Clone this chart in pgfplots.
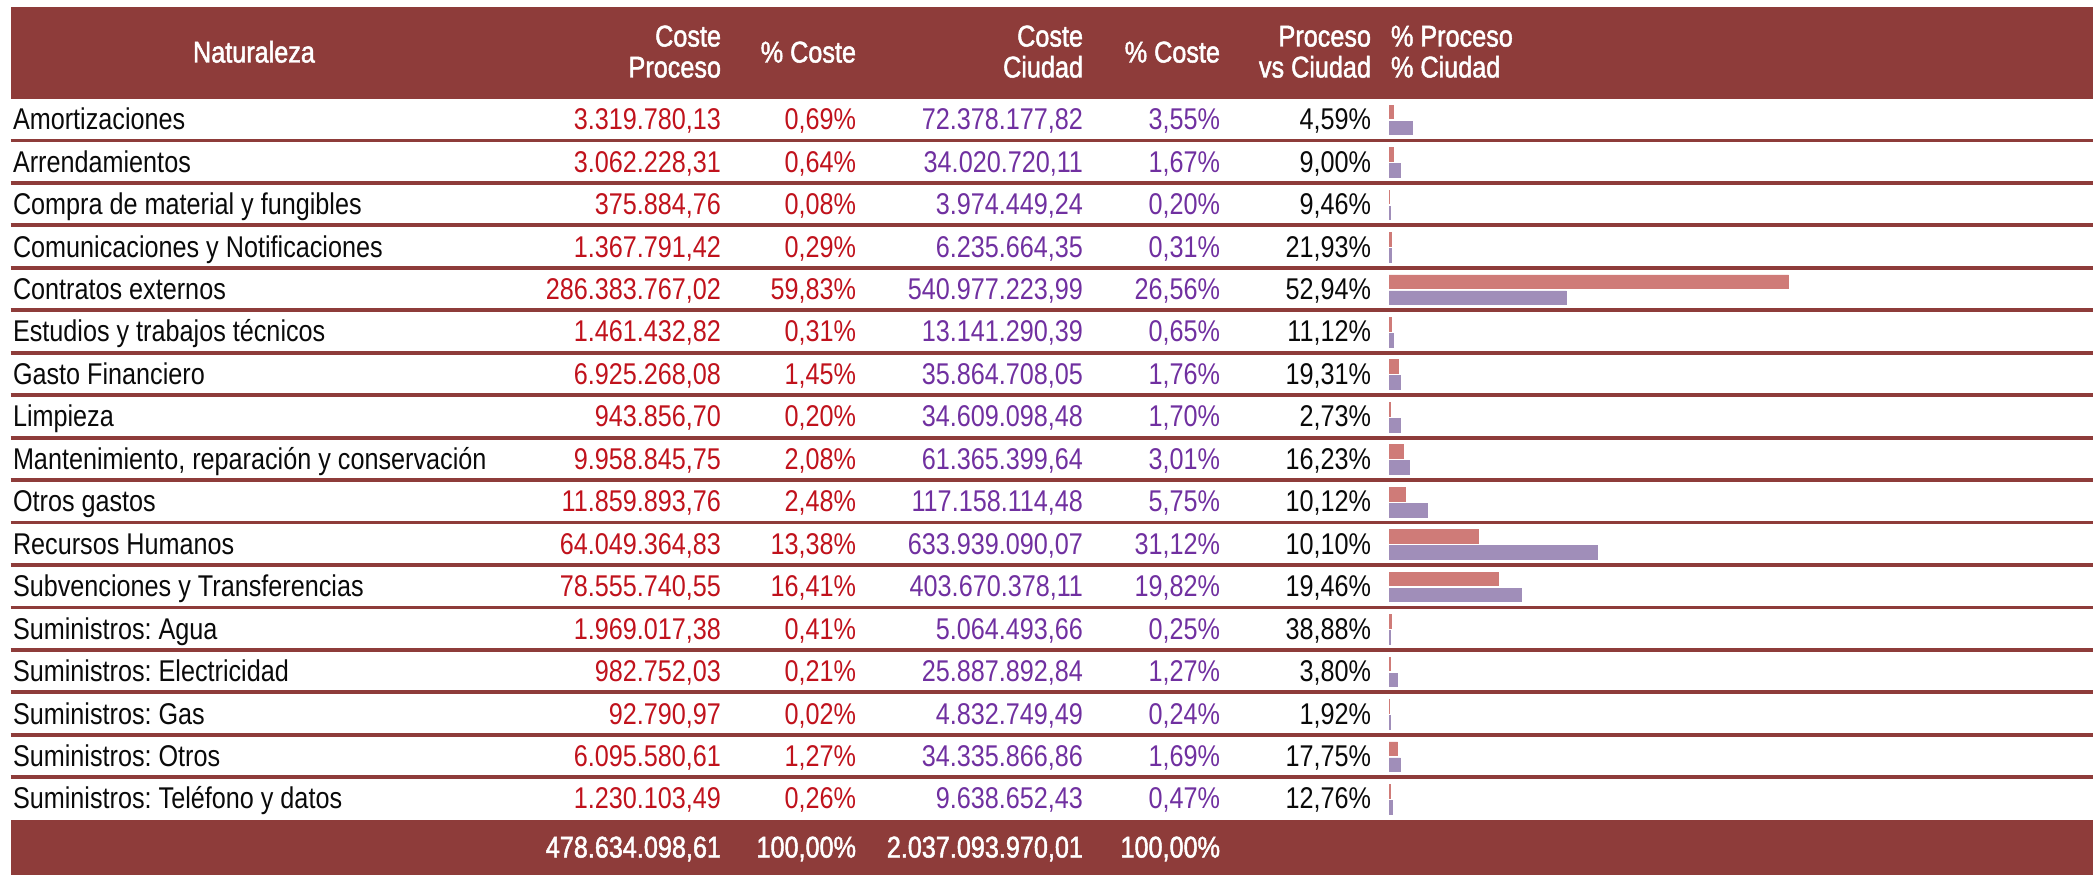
\documentclass[border=0pt]{standalone}
\usepackage{pgfplots}
\pgfplotsset{compat=1.18}
\usepackage{pgfplotstable}
\usepackage{fontspec}
\setmainfont{Liberation Sans}[FakeStretch=0.84]
\newfontfamily\hfont{Liberation Sans}[FakeStretch=0.84,FakeBold=1.6]
\frenchspacing
\definecolor{hdr}{RGB}{142,60,58}
\definecolor{tred}{RGB}{192,18,28}
\definecolor{tpur}{RGB}{112,48,160}
\definecolor{bred}{RGB}{207,123,120}
\definecolor{bpur}{RGB}{160,142,185}
\definecolor{tblk}{RGB}{10,10,10}

\pgfplotstableread{
i pp pc
1 0.69 3.55
2 0.64 1.67
3 0.08 0.20
4 0.29 0.31
5 59.83 26.56
6 0.31 0.65
7 1.45 1.76
8 0.20 1.70
9 2.08 3.01
10 2.48 5.75
11 13.38 31.12
12 16.41 19.82
13 0.41 0.25
14 0.21 1.27
15 0.02 0.24
16 1.27 1.69
17 0.26 0.47
}\data

\newcommand\row[7]{%
  \pgfmathsetmacro\by{119+(#1-1)*42.45+10.7}%
  \node[anchor=base west,text=tblk] at (13,\by) {#2};
  \node[anchor=base east,text=tred] at (721,\by) {#3};
  \node[anchor=base east,text=tred] at (856,\by) {#4};
  \node[anchor=base east,text=tpur] at (1083,\by) {#5};
  \node[anchor=base east,text=tpur] at (1220,\by) {#6};
  \node[anchor=base east,text=tblk] at (1371,\by) {#7};
}

\begin{document}
\begin{tikzpicture}[font=\fontsize{15bp}{18bp}\selectfont]
\begin{scope}[shift={(0,437.5bp)},x=0.5bp,y=-0.5bp,every node/.style={inner sep=0pt,outer sep=0pt}]
\path (0,0) rectangle (2095,875);
\fill[hdr] (10.5,7) rectangle (2093,99);
\fill[hdr] (11,820) rectangle (2093,875);
\foreach \k in {0,...,15} {
  \draw[hdr,line width=1.9bp] (10.5,{140.5+\k*42.45}) -- (2093,{140.5+\k*42.45});
}
% header
\begin{scope}[every node/.append style={text=white,font=\fontsize{15bp}{18bp}\hfont}]
\node[anchor=base] at (254,62.5) {Naturaleza};
\node[anchor=base east] at (721,46.5) {Coste};
\node[anchor=base east] at (721,77.5) {Proceso};
\node[anchor=base east] at (856,62.5) {\% Coste};
\node[anchor=base east] at (1083,46.5) {Coste};
\node[anchor=base east] at (1083,77.5) {Ciudad};
\node[anchor=base east] at (1220,62.5) {\% Coste};
\node[anchor=base east] at (1371,46.5) {Proceso};
\node[anchor=base east] at (1371,77.5) {vs Ciudad};
\node[anchor=base west] at (1391,46.5) {\% Proceso};
\node[anchor=base west] at (1391,77.5) {\% Ciudad};
% footer
\node[anchor=base east] at (721,857.5) {478.634.098,61};
\node[anchor=base east] at (856,857.5) {100,00\%};
\node[anchor=base east] at (1083,857.5) {2.037.093.970,01};
\node[anchor=base east] at (1220,857.5) {100,00\%};
\end{scope}
% rows
\row{1}{Amortizaciones}{3.319.780,13}{0,69\%}{72.378.177,82}{3,55\%}{4,59\%}
\row{2}{Arrendamientos}{3.062.228,31}{0,64\%}{34.020.720,11}{1,67\%}{9,00\%}
\row{3}{Compra de material y fungibles}{375.884,76}{0,08\%}{3.974.449,24}{0,20\%}{9,46\%}
\row{4}{Comunicaciones y Notificaciones}{1.367.791,42}{0,29\%}{6.235.664,35}{0,31\%}{21,93\%}
\row{5}{Contratos externos}{286.383.767,02}{59,83\%}{540.977.223,99}{26,56\%}{52,94\%}
\row{6}{Estudios y trabajos técnicos}{1.461.432,82}{0,31\%}{13.141.290,39}{0,65\%}{11,12\%}
\row{7}{Gasto Financiero}{6.925.268,08}{1,45\%}{35.864.708,05}{1,76\%}{19,31\%}
\row{8}{Limpieza}{943.856,70}{0,20\%}{34.609.098,48}{1,70\%}{2,73\%}
\row{9}{Mantenimiento, reparación y conservación}{9.958.845,75}{2,08\%}{61.365.399,64}{3,01\%}{16,23\%}
\row{10}{Otros gastos}{11.859.893,76}{2,48\%}{117.158.114,48}{5,75\%}{10,12\%}
\row{11}{Recursos Humanos}{64.049.364,83}{13,38\%}{633.939.090,07}{31,12\%}{10,10\%}
\row{12}{Subvenciones y Transferencias}{78.555.740,55}{16,41\%}{403.670.378,11}{19,82\%}{19,46\%}
\row{13}{Suministros: Agua}{1.969.017,38}{0,41\%}{5.064.493,66}{0,25\%}{38,88\%}
\row{14}{Suministros: Electricidad}{982.752,03}{0,21\%}{25.887.892,84}{1,27\%}{3,80\%}
\row{15}{Suministros: Gas}{92.790,97}{0,02\%}{4.832.749,49}{0,24\%}{1,92\%}
\row{16}{Suministros: Otros}{6.095.580,61}{1,27\%}{34.335.866,86}{1,69\%}{17,75\%}
\row{17}{Suministros: Teléfono y datos}{1.230.103,49}{0,26\%}{9.638.652,43}{0,47\%}{12,76\%}
\end{scope}
\begin{axis}[at={(694.5bp,0)},anchor=south west,scale only axis,
  width=334bp,height=437.5bp,xmin=0,xmax=100,
  ymin=-1.80330,ymax=18.8092,y dir=reverse,
  axis lines=none,ticks=none,xbar,bar width=6.85bp,clip=false]
\addplot[fill=bred,draw=bred,line width=0.4bp,bar shift=3.5bp] table[x=pp,y=i] {\data};
\addplot[fill=bpur,draw=bpur,line width=0.4bp,bar shift=-4.5bp] table[x=pc,y=i] {\data};
\end{axis}
\end{tikzpicture}
\end{document}
